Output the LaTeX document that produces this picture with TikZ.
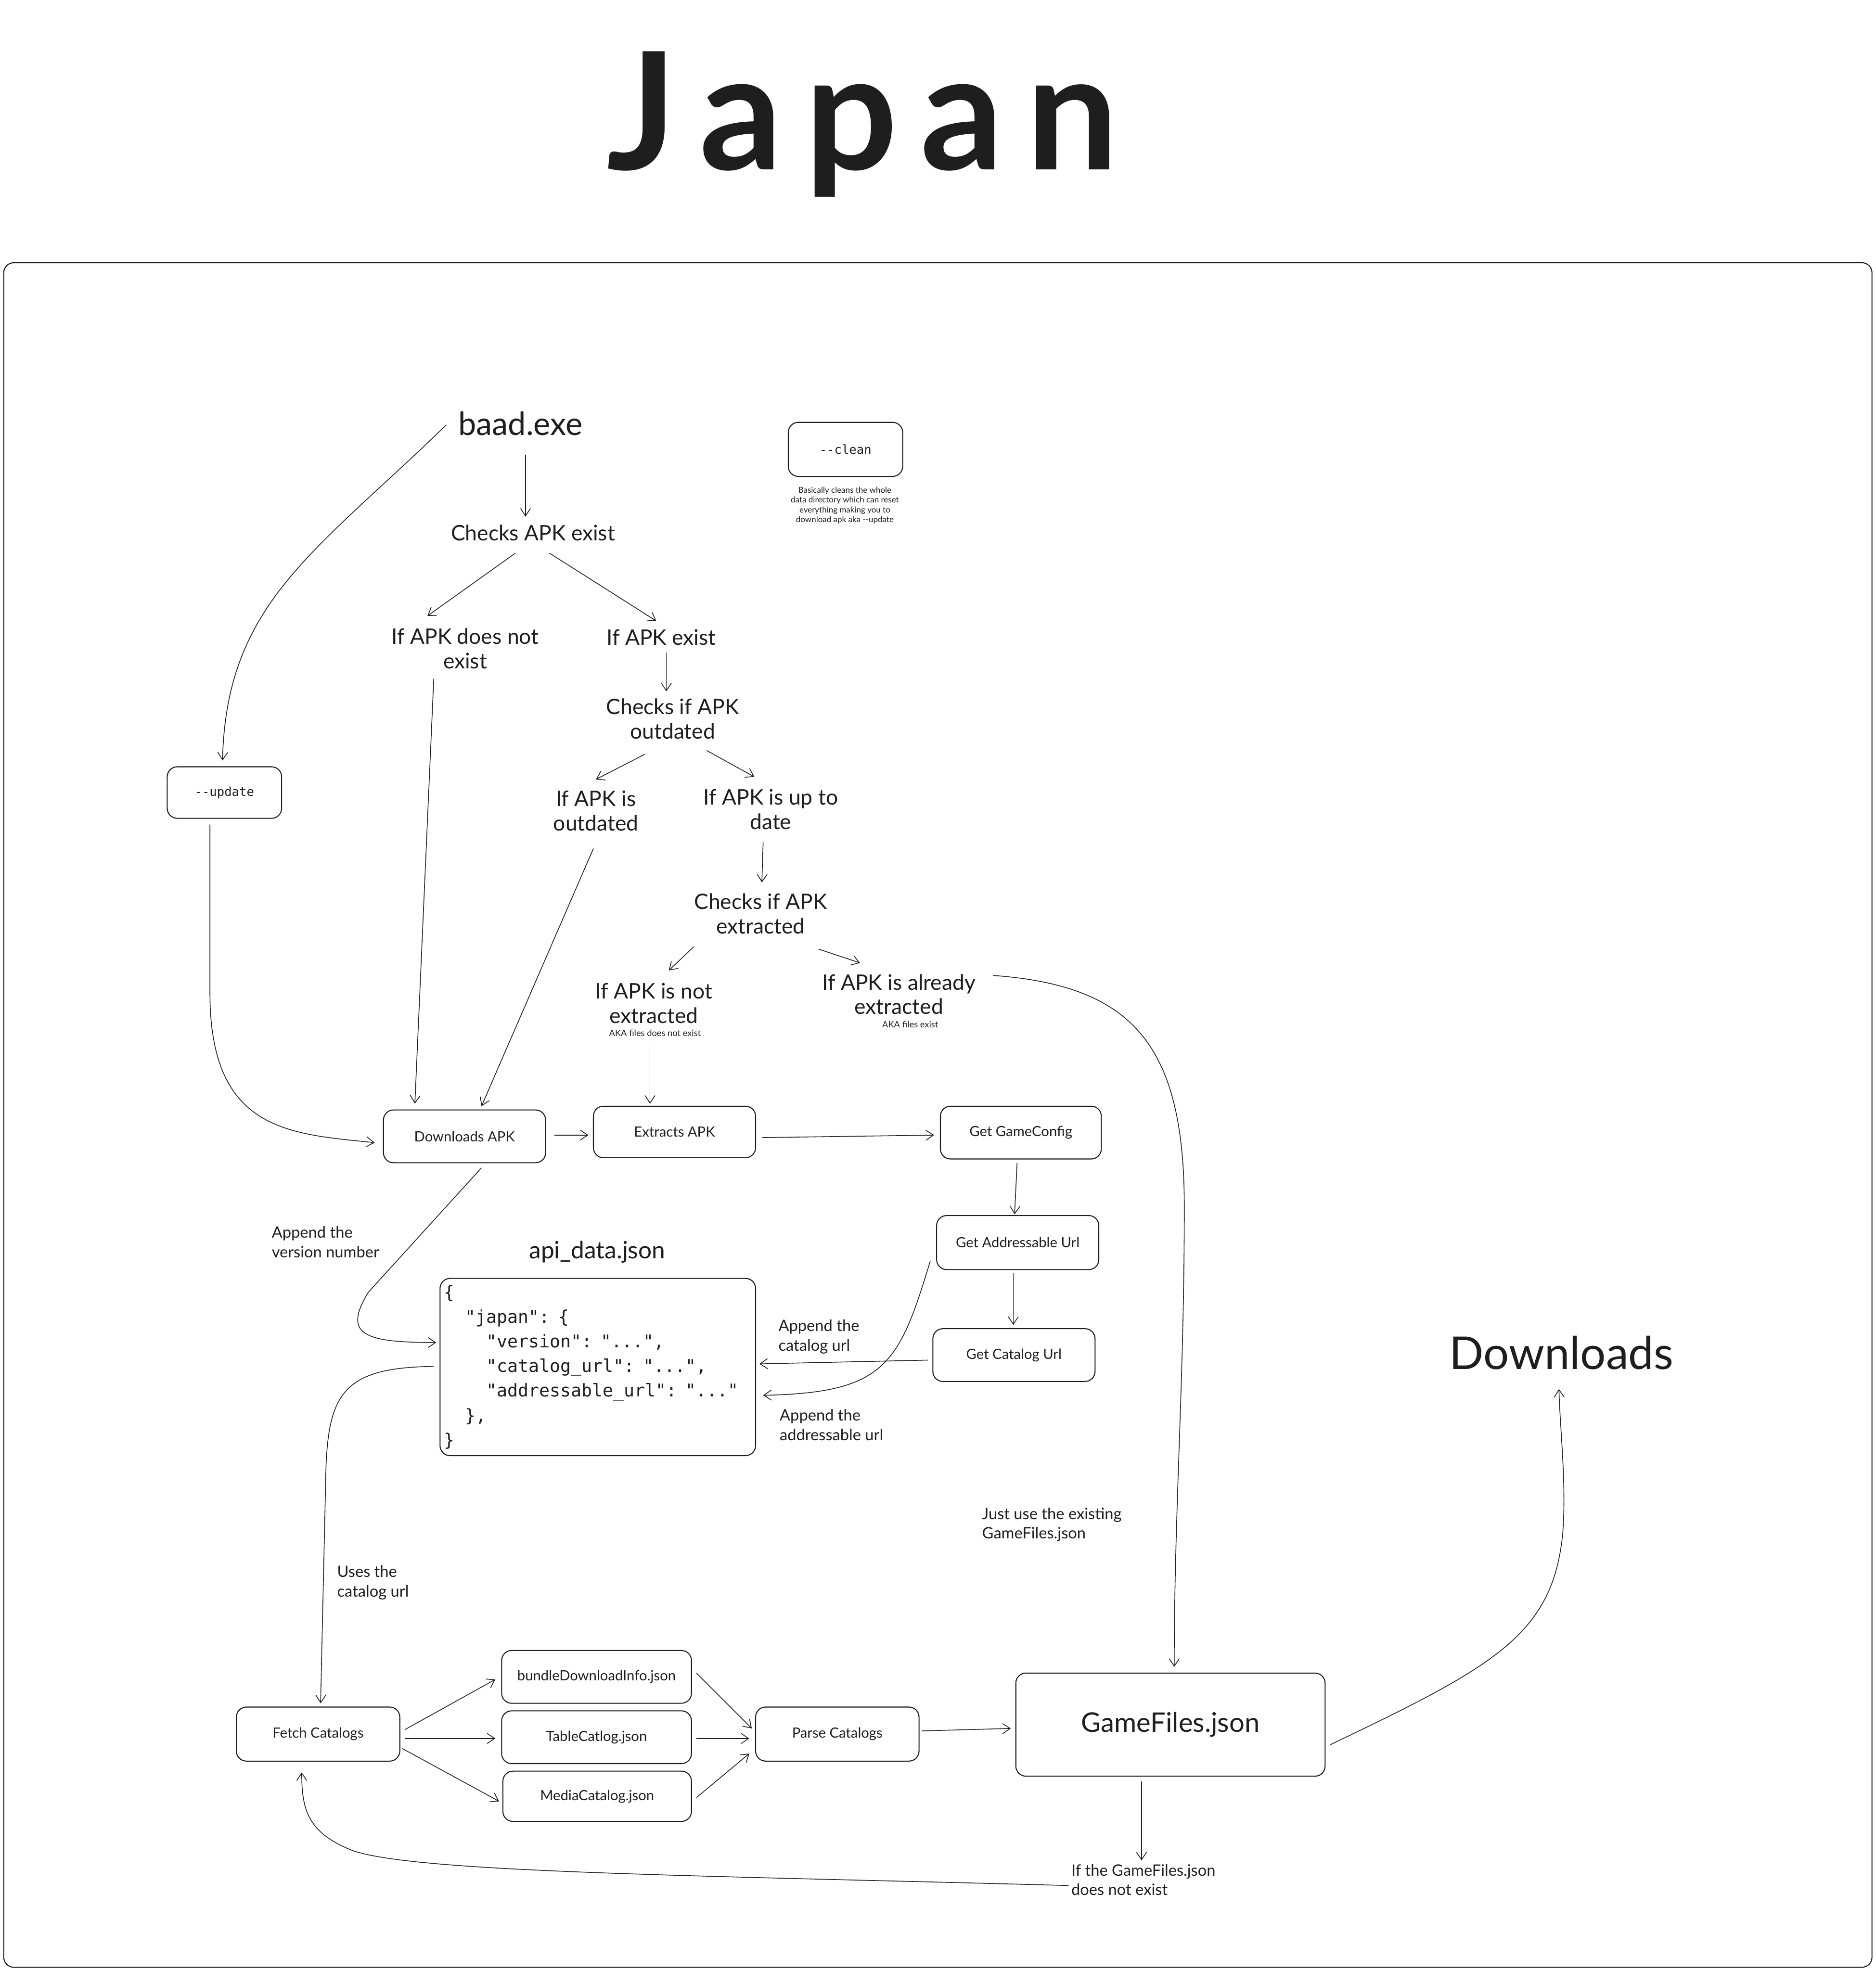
\documentclass[tikz,border=0pt]{standalone}
\usepackage{fontspec}
\setmainfont{Lato}
\setmonofont{DejaVu Sans Mono}
\usetikzlibrary{arrows.meta}
\definecolor{ink}{HTML}{1E1E1E}
\newcommand{\jpTitle}{\bfseries\fontsize{130}{140}\selectfont}
\newcommand{\jpBig}{\fontsize{25.5}{30}\selectfont}
\newcommand{\jpDown}{\fontsize{36}{42}\selectfont}
\newcommand{\jpGF}{\fontsize{21.5}{25}\selectfont}
\newcommand{\jpApi}{\fontsize{19}{23}\selectfont}
\newcommand{\jpDec}{\fontsize{17}{19.5}\selectfont}
\newcommand{\jpBox}{\fontsize{11.2}{13}\selectfont}
\newcommand{\jpLbl}{\fontsize{12.5}{15.5}\selectfont}
\newcommand{\jpAka}{\fontsize{7}{8}\selectfont}
\newcommand{\jpCap}{\fontsize{6.5}{7.8}\selectfont}
\newcommand{\jpOpt}{\ttfamily\fontsize{9.8}{12}\selectfont}
\newcommand{\jpJson}{\ttfamily\fontsize{14}{19.6}\selectfont}
\begin{document}
\begin{tikzpicture}[x=1pt,y=-1pt,
  box/.style={draw=ink, line width=0.8pt, rounded corners=8pt, inner sep=0pt, font=\jpBox, text=ink},
  dec/.style={align=center, font=\jpDec, text=ink, inner sep=0pt},
  lbl/.style={align=left, anchor=west, font=\jpLbl, text=ink, inner sep=0pt},
  aka/.style={font=\jpAka, text=ink, inner sep=0pt},
  arr/.style={draw=ink, line width=0.6pt, -{Straight Barb[length=6pt,width=8pt]}}]
\useasboundingbox (0,0) rectangle (1492,1568);
\fill[white] (0,0) rectangle (1492,1568);
% frame
\draw[ink, line width=0.8pt, rounded corners=8pt] (3,209) rectangle (1489,1565);
% title
\node[anchor=base, font=\jpTitle, text=ink, inner sep=0pt] (title) at (686,135) {J\kern18pt a\kern18pt p\kern18pt a\kern18pt n};
% top texts
\node[font=\jpBig, text=ink, inner sep=0pt] (baad) at (414,337) {baad.exe};
\node[box, font=\jpOpt, minimum width=91pt, minimum height=43pt] (clean) at (672.5,357.5) {-{}-clean};
\node[align=center, font=\jpCap, text=ink, inner sep=0pt] (cleancap) at (672,402) {Basically cleans the whole\\data directory which can reset\\everything making you to\\download apk aka -{}-update};
\node[dec] (chk) at (424,424) {Checks APK exist};
\node[dec] (ifnot) at (370,516) {If APK does not\\exist};
\node[dec] (ifex) at (526,507) {If APK exist};
\node[dec] (chkout) at (535,572) {Checks if APK\\outdated};
\node[dec] (ifout) at (474,645) {If APK is\\outdated};
\node[dec] (ifup) at (613,644) {If APK is up to\\date};
\node[dec] (chkex) at (605,727) {Checks if APK\\extracted};
\node[dec] (ifnotex) at (520,798) {If APK is not\\extracted};
\node[aka] (akanot) at (521,822) {AKA files does not exist};
\node[dec] (ifal) at (715,791) {If APK is already\\extracted};
\node[aka] (akaex) at (724,815) {AKA files exist};
% boxes
\node[box, font=\jpOpt, minimum width=91pt, minimum height=41pt] (update) at (178.5,630.5) {-{}-update};
\node[box, minimum width=129pt, minimum height=42pt] (dl) at (369.5,904) {Downloads APK};
\node[box, minimum width=129pt, minimum height=41pt] (ex) at (536.5,900.5) {Extracts APK};
\node[box, minimum width=128pt, minimum height=42pt] (gc) at (812,901) {Get GameConfig};
\node[box, minimum width=129pt, minimum height=43pt] (ga) at (809.5,988.5) {Get Addressable Url};
\node[box, minimum width=129pt, minimum height=42pt] (gcu) at (806.5,1078) {Get Catalog Url};
\node[font=\jpApi, text=ink, inner sep=0pt] (apilbl) at (475,996) {api\_data.json};
\node[box, font=\jpJson, minimum height=141pt, align=left, text width=245pt, inner xsep=3pt] (api) at (475.5,1087.5)
  {\{\\\phantom{xx}"japan": \{\\\phantom{xxxx}"version": "...",\\\phantom{xxxx}"catalog\_url": "...",\\\phantom{xxxx}"addressable\_url": "..."\\\phantom{xx}\},\\\}};
\node[box, minimum width=130pt, minimum height=43pt] (fetch) at (253,1379.5) {Fetch Catalogs};
\node[box, minimum width=151pt, minimum height=42pt] (bdi) at (474.5,1334) {bundleDownloadInfo.json};
\node[box, minimum width=151pt, minimum height=42pt] (tc) at (474.5,1382) {TableCatlog.json};
\node[box, minimum width=150pt, minimum height=40pt] (mc) at (475,1429) {MediaCatalog.json};
\node[box, minimum width=130pt, minimum height=43pt] (parse) at (666,1379.5) {Parse Catalogs};
\node[box, font=\jpGF, minimum width=246pt, minimum height=82pt] (gf) at (931,1372) {GameFiles.json};
\node[font=\jpDown, text=ink, inner sep=0pt] (downloads) at (1242,1076) {Downloads};
% labels
\node[lbl] (lblver) at (216,988) {Append the\\version number};
\node[lbl] (lblcat) at (619,1063.5) {Append the\\catalog url};
\node[lbl] (lbladdr) at (620,1133.5) {Append the\\addressable url};
\node[lbl] (lbluses) at (268,1259) {Uses the\\catalog url};
\node[lbl] (lbljust) at (781,1213) {Just use the existing\\GameFiles.json};
\node[lbl] (ifgf) at (852,1495.5) {If the GameFiles.json\\does not exist};
% connectors
\draw[arr] ([shift={(4,25)}]baad.center) -- ([shift={(-6,-13)}]chk.center);
\draw[arr] ([shift={(-14,16)}]chk.center) -- ([shift={(-30,-26)}]ifnot.center);
\draw[arr] ([shift={(13,16)}]chk.center) -- ([shift={(-4,-13)}]ifex.center);
\draw[arr] ([shift={(4,12)}]ifex.center) -- ([shift={(-5,-22)}]chkout.center);
\draw[arr] ([shift={(-22,28)}]chkout.center) -- ([shift={(0,-25)}]ifout.center);
\draw[arr] ([shift={(27,25)}]chkout.center) -- ([shift={(-13,-26)}]ifup.center);
\draw[arr] ([shift={(-6,26)}]ifup.center) -- ([shift={(1,-25)}]chkex.center);
\draw[arr] ([shift={(-53,26)}]chkex.center) -- ([shift={(12,-26)}]ifnotex.center);
\draw[arr] ([shift={(46,28)}]chkex.center) -- ([shift={(-31,-25)}]ifal.center);
\draw[arr] ([shift={(-59,1)}]baad.center) .. controls (250,440) and (180,480) .. ([shift={(-1.5,-25.5)}]update.center);
\draw[arr] ([shift={(-11.5,25.5)}]update.center) -- (167,790) .. controls (167,900) and (230,902) .. ([shift={(-71.5,5)}]dl.center);
\draw[arr] ([shift={(-25,24)}]ifnot.center) -- ([shift={(-39.5,-26)}]dl.center);
\draw[arr] ([shift={(-2,30)}]ifout.center) -- ([shift={(13.5,-24)}]dl.center);
\draw[arr] ([shift={(-3,34)}]ifnotex.center) -- ([shift={(-19.5,-22.5)}]ex.center);
\draw[arr] ([shift={(71.5,-1)}]dl.center) -- ([shift={(-68.5,2.5)}]ex.center);
\draw[arr] ([shift={(69.5,4.5)}]ex.center) -- ([shift={(-69,2)}]gc.center);
\draw[arr] ([shift={(-3,24)}]gc.center) -- ([shift={(-2.5,-22.5)}]ga.center);
\draw[arr] ([shift={(-3.5,24.5)}]ga.center) -- ([shift={(-0.5,-24)}]gcu.center);
\draw[arr] ([shift={(-68.5,4)}]gcu.center) -- ([shift={(128.5,-2.5)}]api.center);
\draw[arr] ([shift={(-69.5,14.5)}]ga.center) .. controls (715,1085) and (705,1108) .. ([shift={(131.5,22.5)}]api.center);
\draw[arr] ([shift={(13.5,25)}]dl.center) -- (293,1028) .. controls (272,1062) and (290,1068) .. ([shift={(-128.5,-19.5)}]api.center);
\draw[arr] ([shift={(-130.5,-0.5)}]api.center) .. controls (270,1088) and (260,1110) .. (259,1180) -- ([shift={(2,-24.5)}]fetch.center);
\draw[arr] ([shift={(69,-3.5)}]fetch.center) -- ([shift={(-80.5,2)}]bdi.center);
\draw[arr] ([shift={(69,3.5)}]fetch.center) -- ([shift={(-80.5,1)}]tc.center);
\draw[arr] ([shift={(67,11.5)}]fetch.center) -- ([shift={(-78,4)}]mc.center);
\draw[arr] ([shift={(79.5,-3)}]bdi.center) -- ([shift={(-68,-4.5)}]parse.center);
\draw[arr] ([shift={(79.5,1)}]tc.center) -- ([shift={(-70,3.5)}]parse.center);
\draw[arr] ([shift={(79,1)}]mc.center) -- ([shift={(-70,15.5)}]parse.center);
\draw[arr] ([shift={(67,-2.5)}]parse.center) -- ([shift={(-127,3)}]gf.center);
\draw[arr] ([shift={(75,-15)}]ifal.center) .. controls (900,784) and (942,830) .. (942,960) .. controls (942,1100) and (934,1200) .. ([shift={(3,-46)}]gf.center);
\draw[arr] ([shift={(-23,45)}]gf.center) -- ([shift={(56,-15.5)}]ifgf.west);
\draw[arr] ([shift={(-2,4.5)}]ifgf.west) .. controls (560,1492) and (330,1490) .. (280,1472) .. controls (245,1458) and (240,1440) .. ([shift={(-13,30.5)}]fetch.center);
\draw[arr] ([shift={(127,16)}]gf.center) .. controls (1190,1325) and (1235,1300) .. (1243,1220) .. controls (1246,1180) and (1241,1140) .. ([shift={(-2,29)}]downloads.center);
\end{tikzpicture}
\end{document}
